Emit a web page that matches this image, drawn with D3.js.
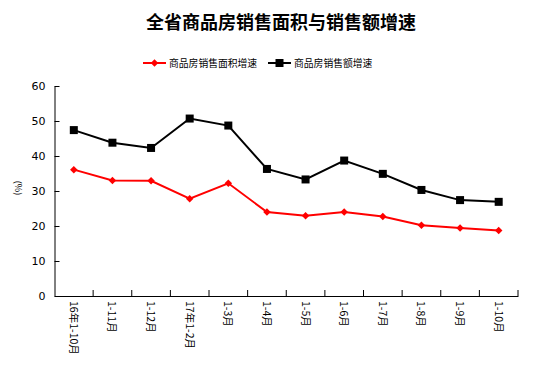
<!DOCTYPE html>
<html>
<head>
<meta charset="utf-8">
<script src="https://cdn.jsdelivr.net/npm/d3@7/dist/d3.min.js"></script>
<style>
  body { margin: 0; background: #fff; }
  text { font-family: "Noto Sans CJK SC", "Noto Sans", sans-serif; }
</style>
</head>
<body>
<div id="chart"></div>
<script>
const categories = ["16年1-10月", "1-11月", "1-12月", "17年1-2月", "1-3月", "1-4月", "1-5月", "1-6月", "1-7月", "1-8月", "1-9月", "1-10月"];
const areaGrowth = [36.1, 33.0, 32.9, 27.8, 32.2, 24.0, 22.9, 24.0, 22.7, 20.2, 19.4, 18.7];
const salesGrowth = [47.4, 43.8, 42.3, 50.7, 48.7, 36.3, 33.3, 38.7, 34.9, 30.3, 27.4, 26.9];
const yTicks = [0, 10, 20, 30, 40, 50, 60];
const seriesNames = ["商品房销售面积增速", "商品房销售额增速"];

const width = 554, height = 377;
const margin = { top: 86, right: 36, bottom: 81, left: 54.5 };

const svg = d3.select("#chart").append("svg")
    .attr("width", width)
    .attr("height", height);

const x = d3.scaleBand()
    .domain(categories)
    .range([margin.left, width - margin.right]);

const y = d3.scaleLinear()
    .domain([0, 60])
    .range([height - margin.bottom, margin.top]);

// title
svg.append("text")
    .attr("x", 281)
    .attr("y", 29)
    .attr("text-anchor", "middle")
    .style("font-size", "18px")
    .style("font-weight", "bold")
    .text("全省商品房销售面积与销售额增速");

// axes
const yAxis = svg.append("g")
    .attr("transform", `translate(${margin.left},0)`)
    .call(d3.axisLeft(y).tickValues(yTicks).tickSizeInner(-5).tickSizeOuter(0).tickPadding(9));

const xAxis = svg.append("g")
    .attr("transform", `translate(0,${height - margin.bottom})`)
    .call(d3.axisBottom(x).tickSize(0).tickFormat(""));

xAxis.selectAll(".boundary")
    .data(categories)
    .enter()
    .append("line")
    .attr("class", "boundary")
    .attr("x1", d => x(d) + x.bandwidth())
    .attr("x2", d => x(d) + x.bandwidth())
    .attr("y1", 0)
    .attr("y2", -6)
    .attr("stroke", "#000");

svg.selectAll(".domain").attr("stroke", "#000").attr("stroke-width", 1);
yAxis.selectAll("line").attr("stroke", "#000");
yAxis.selectAll("text").style("font-size", "11px").style("font-family", "'DejaVu Sans', sans-serif").attr("fill", "#000");

// x labels (rotated)
svg.selectAll(".xlabel")
    .data(categories)
    .enter()
    .append("text")
    .attr("class", "xlabel")
    .attr("transform", d => `translate(${x(d) + x.bandwidth() / 2 - 4},${height - margin.bottom + 5}) rotate(90)`)
    .attr("text-anchor", "start")
    .style("font-size", "10.5px")
    .text(d => d);

// y-axis unit label
svg.append("text")
    .attr("transform", "translate(15,188) rotate(90)")
    .attr("text-anchor", "middle")
    .style("font-size", "9px")
    .text("(%)");

// lines
const line = d3.line()
    .x((d, i) => x(categories[i]) + x.bandwidth() / 2)
    .y(d => y(d));

svg.append("path")
    .datum(salesGrowth)
    .attr("fill", "none")
    .attr("stroke", "#000")
    .attr("stroke-width", 2)
    .attr("d", line);

svg.append("path")
    .datum(areaGrowth)
    .attr("fill", "none")
    .attr("stroke", "#ff0000")
    .attr("stroke-width", 2)
    .attr("d", line);

svg.selectAll(".sq")
    .data(salesGrowth)
    .enter()
    .append("rect")
    .attr("class", "sq")
    .attr("x", (d, i) => x(categories[i]) + x.bandwidth() / 2 - 4)
    .attr("y", d => y(d) - 4)
    .attr("width", 8)
    .attr("height", 8)
    .attr("fill", "#000");

const diamond = d3.symbol().type(d3.symbolDiamond2).size(36);
svg.selectAll(".dm")
    .data(areaGrowth)
    .enter()
    .append("path")
    .attr("class", "dm")
    .attr("transform", (d, i) => `translate(${x(categories[i]) + x.bandwidth() / 2},${y(d)})`)
    .attr("d", diamond)
    .attr("fill", "#ff0000");

// legend
const legend = svg.append("g").attr("transform", "translate(0,63)");
const legendItems = [
    { name: seriesNames[0], color: "#ff0000", x: 143, shape: "diamond" },
    { name: seriesNames[1], color: "#000", x: 268, shape: "square" }
];
legendItems.forEach(it => {
    legend.append("line")
        .attr("x1", it.x).attr("x2", it.x + 23)
        .attr("y1", 0).attr("y2", 0)
        .attr("stroke", it.color).attr("stroke-width", 2);
    if (it.shape === "diamond") {
        legend.append("path")
            .attr("transform", `translate(${it.x + 11.5},0)`)
            .attr("d", diamond)
            .attr("fill", it.color);
    } else {
        legend.append("rect")
            .attr("x", it.x + 7.5).attr("y", -4)
            .attr("width", 8).attr("height", 8)
            .attr("fill", it.color);
    }
    legend.append("text")
        .attr("x", it.x + 26)
        .attr("y", 4)
        .style("font-size", "9.8px")
        .text(it.name);
});
</script>
</body>
</html>
